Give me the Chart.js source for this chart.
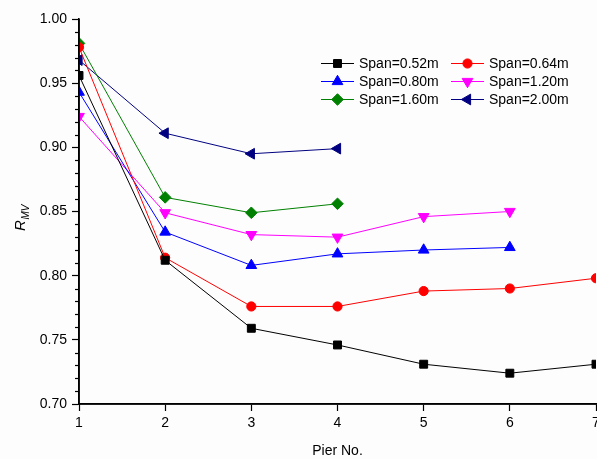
<!DOCTYPE html>
<html>
<head>
<meta charset="utf-8">
<script src="https://cdn.jsdelivr.net/npm/chart.js@4.4.1/dist/chart.umd.min.js"></script>
<style>
    html, body { margin: 0; padding: 0; background: #fdfdfd; overflow: hidden; }
    #wrap { width: 597px; height: 459px; position: relative; }
</style>
</head>
<body>
<div id="wrap"><canvas id="rmvChart" width="597" height="459"></canvas></div>
<script>
// Pier numbers along the bridge and R_MV per span length
const piers = [1, 2, 3, 4, 5, 6, 7];
const span052 = [0.956, 0.812, 0.759, 0.746, 0.731, 0.724, 0.731];
const span064 = [0.978, 0.814, 0.776, 0.776, 0.788, 0.790, 0.798];
const span080 = [0.943, 0.834, 0.808, 0.817, 0.820, 0.822];
const span120 = [0.924, 0.849, 0.832, 0.830, 0.846, 0.850];
const span160 = [0.981, 0.861, 0.849, 0.856];
const span200 = [0.968, 0.911, 0.895, 0.899];
const spanLabels = ['Span=0.52m', 'Span=0.64m', 'Span=0.80m', 'Span=1.20m', 'Span=1.60m', 'Span=2.00m'];
const yMin = 0.70, yMax = 1.00, yMajorStep = 0.05, yMinorStep = 0.01;

const FONT = '"Liberation Sans", Arial, sans-serif';

const styles = [
    { color: '#000000', pointStyle: 'rect', rotation: 0, radius: 5.6 },
    { color: '#ff0000', pointStyle: 'circle', rotation: 0, radius: 4.6 },
    { color: '#0000ff', pointStyle: 'triangle', rotation: 0, radius: 6.2 },
    { color: '#ff00ff', pointStyle: 'triangle', rotation: 180, radius: 6.2 },
    { color: '#008000', pointStyle: 'rectRot', rotation: 0, radius: 5.8 },
    { color: '#000080', pointStyle: 'triangle', rotation: 270, radius: 6.2 }
];

const seriesValues = [span052, span064, span080, span120, span160, span200];

const datasets = seriesValues.map((vals, i) => ({
    label: spanLabels[i],
    data: vals.map((v, k) => ({ x: piers[k], y: v })),
    borderColor: styles[i].color,
    backgroundColor: styles[i].color,
    borderWidth: 1,
    pointStyle: styles[i].pointStyle,
    rotation: styles[i].rotation,
    pointRadius: styles[i].radius,
    pointBorderWidth: 1,
    pointBorderColor: styles[i].color,
    pointBackgroundColor: styles[i].color,
    tension: 0
}));

// keep markers inside the plot frame
const plotClip = {
    id: 'plotClip',
    beforeDatasetsDraw(chart) {
        const a = chart.chartArea;
        chart.ctx.save();
        chart.ctx.beginPath();
        chart.ctx.rect(a.left, a.top, a.right - a.left, a.bottom - a.top);
        chart.ctx.clip();
    },
    afterDatasetsDraw(chart) {
        chart.ctx.restore();
    }
};

// minor ticks, axis titles and the two-column legend
const decorations = {
    id: 'decorations',
    afterDraw(chart) {
        const ctx = chart.ctx;
        const area = chart.chartArea;
        const y = chart.scales.y;
        ctx.save();

        // redraw the axis lines on top of the markers
        ctx.strokeStyle = '#000';
        ctx.lineWidth = 1.6;
        ctx.beginPath();
        ctx.moveTo(area.left, area.top);
        ctx.lineTo(area.left, area.bottom);
        ctx.lineTo(area.right + 1, area.bottom);
        ctx.stroke();

        // minor ticks on the value axis
        ctx.lineWidth = 1.2;
        const n = Math.round((yMax - yMin) / yMinorStep);
        for (let k = 0; k <= n; k++) {
            if (k % 5 === 0) continue;
            const py = Math.round(y.getPixelForValue(yMin + k * yMinorStep)) + 0.5;
            ctx.beginPath();
            ctx.moveTo(area.left - 4, py);
            ctx.lineTo(area.left, py);
            ctx.stroke();
        }

        // x axis title
        ctx.fillStyle = '#000';
        ctx.font = '14px ' + FONT;
        ctx.textAlign = 'center';
        ctx.textBaseline = 'alphabetic';
        ctx.fillText('Pier No.', (area.left + area.right) / 2, 455);

        // y axis title R_MV, rotated
        ctx.translate(25, 218);
        ctx.rotate(-Math.PI / 2);
        ctx.textAlign = 'left';
        ctx.font = 'italic 15px ' + FONT;
        const rW = ctx.measureText('R').width;
        ctx.font = 'italic 10px ' + FONT;
        const mvW = ctx.measureText('MV').width;
        const x0 = -(rW + mvW) / 2;
        ctx.font = 'italic 15px ' + FONT;
        ctx.fillText('R', x0, 0);
        ctx.font = 'italic 10px ' + FONT;
        ctx.fillText('MV', x0 + rW + 0.5, 4);
        ctx.setTransform(1, 0, 0, 1, 0, 0);

        // legend
        const cols = [321, 451];
        const rows = [63, 81, 99];
        ctx.font = '14px ' + FONT;
        ctx.textBaseline = 'middle';
        ctx.textAlign = 'left';
        chart.data.datasets.forEach((ds, i) => {
            const cx = cols[i % 2];
            const cy = rows[Math.floor(i / 2)];
            ctx.strokeStyle = ds.borderColor;
            ctx.lineWidth = 1;
            ctx.beginPath();
            ctx.moveTo(cx, cy + 0.5);
            ctx.lineTo(cx + 33, cy + 0.5);
            ctx.stroke();
            ctx.fillStyle = ds.backgroundColor;
            Chart.helpers.drawPoint(ctx, {
                pointStyle: ds.pointStyle,
                rotation: ds.rotation,
                radius: ds.pointRadius,
                borderWidth: 1
            }, cx + 16.5, cy + 0.5);
            ctx.fillStyle = '#000';
            ctx.fillText(ds.label, cx + 38, cy + 1);
        });
        ctx.restore();
    }
};

new Chart(document.getElementById('rmvChart').getContext('2d'), {
    type: 'line',
    data: { datasets },
    options: {
        responsive: false,
        animation: false,
        events: [],
        layout: { autoPadding: false, padding: { top: 19, right: 1, bottom: 0, left: 0 } },
        plugins: {
            legend: { display: false },
            tooltip: { enabled: false }
        },
        scales: {
            x: {
                type: 'linear',
                min: 1,
                max: 7,
                border: { display: true, color: '#000', width: 1.6 },
                grid: { drawOnChartArea: false, drawTicks: true, tickLength: 7, color: '#000', tickWidth: 1.2 },
                ticks: {
                    stepSize: 1,
                    color: '#000',
                    padding: 4,
                    maxRotation: 0,
                    font: { family: FONT, size: 14 }
                },
                afterFit(scale) {
                    scale.height = 55;
                    scale.paddingLeft = 0;
                    scale.paddingRight = 0;
                }
            },
            y: {
                type: 'linear',
                min: yMin,
                max: yMax,
                border: { display: true, color: '#000', width: 1.6 },
                grid: { drawOnChartArea: false, drawTicks: true, tickLength: 7, color: '#000', tickWidth: 1.2 },
                ticks: {
                    stepSize: yMajorStep,
                    color: '#000',
                    padding: 5,
                    font: { family: FONT, size: 14 },
                    callback: v => v.toFixed(2)
                },
                afterFit(scale) {
                    scale.width = 79;
                }
            }
        }
    },
    plugins: [plotClip, decorations]
});
</script>
</body>
</html>
